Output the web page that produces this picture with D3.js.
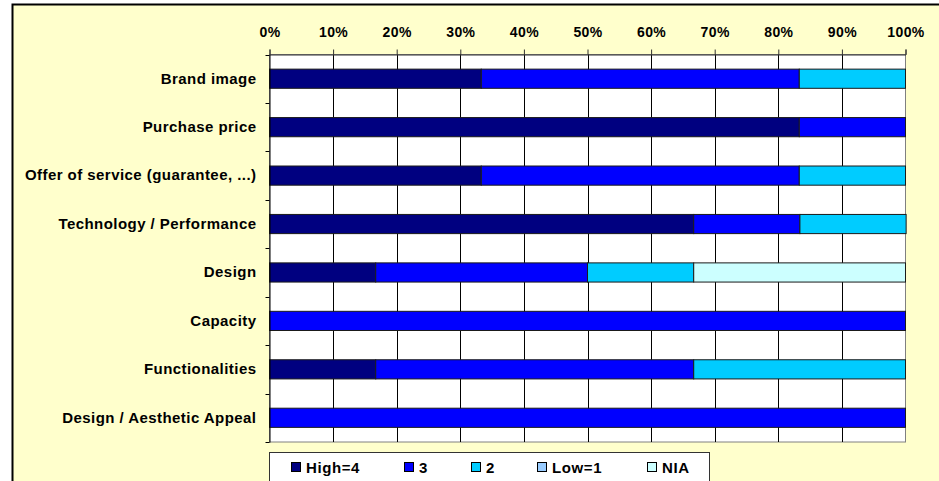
<!DOCTYPE html>
<html>
<head>
<meta charset="utf-8">
<script src="https://cdn.jsdelivr.net/npm/d3@7"></script>
<style>
  html, body { margin: 0; padding: 0; background: #ffffff; }
  svg { display: block; font-family: "Liberation Sans", Arial, sans-serif; }
</style>
</head>
<body>
<svg id="chart" width="939" height="481"></svg>
<script>
const categories = [
  "Brand image",
  "Purchase price",
  "Offer of service (guarantee, ...)",
  "Technology / Performance",
  "Design",
  "Capacity",
  "Functionalities",
  "Design / Aesthetic Appeal"
];
const seriesNames = ["High=4", "3", "2", "Low=1", "NIA"];
const seriesColors = ["#000080", "#0000FF", "#00CCFF", "#99CCFF", "#CCFFFF"];
const high4 = [33.3, 83.3, 33.3, 66.7, 16.7, 0, 16.7, 0];
const val3  = [50.0, 16.7, 50.0, 16.7, 33.3, 100, 50.0, 100];
const val2  = [16.7, 0, 16.7, 16.7, 16.7, 0, 33.3, 0];
const low1  = [0, 0, 0, 0, 0, 0, 0, 0];
const nia   = [0, 0, 0, 0, 33.3, 0, 0, 0];
const tickValues = [0, 10, 20, 30, 40, 50, 60, 70, 80, 90, 100];

const seriesValues = [high4, val3, val2, low1, nia];
const rows = categories.map((c, i) => {
  const r = { cat: c };
  seriesNames.forEach((s, k) => r[s] = seriesValues[k][i]);
  return r;
});

const svg = d3.select("#chart");

// chart area background
svg.append("rect")
  .attr("x", 12.5).attr("y", 4.5)
  .attr("width", 940).attr("height", 500)
  .attr("fill", "#FFFFCC")
  .attr("stroke", "#000").attr("stroke-width", 2);

const pL = 269.5, pR = 905.5, pT = 54.5, pB = 442;
const x = d3.scaleLinear().domain([0, 100]).range([pL, pR]);
const y = d3.scaleBand().domain(categories).range([pT, pB]).paddingInner(0).paddingOuter(0);
const barH = y.bandwidth() * 19 / 48;

// plot area
svg.append("rect")
  .attr("x", pL).attr("y", pT)
  .attr("width", pR - pL).attr("height", pB - pT)
  .attr("fill", "#FFFFFF")
  .attr("stroke", "#808080").attr("stroke-width", 1);

// vertical gridlines
svg.append("g").selectAll("line")
  .data(tickValues.slice(1, -1))
  .join("line")
  .attr("x1", d => Math.round(x(d)) + 0.5).attr("x2", d => Math.round(x(d)) + 0.5)
  .attr("y1", pT).attr("y2", pB)
  .attr("stroke", "#000").attr("stroke-width", 1);

// bars
const stack = d3.stack().keys(seriesNames);
const stacked = stack(rows);
svg.append("g").selectAll("g")
  .data(stacked)
  .join("g")
  .attr("fill", (d, i) => seriesColors[i])
  .selectAll("rect")
  .data(d => d.filter(p => p[1] - p[0] > 0))
  .join("rect")
  .attr("x", d => x(d[0]))
  .attr("width", d => x(d[1]) - x(d[0]))
  .attr("y", d => y(d.data.cat) + (y.bandwidth() - barH) / 2)
  .attr("height", barH)
  .attr("stroke", "#1a1a1a").attr("stroke-width", 1);

// top axis
const xAxis = d3.axisTop(x)
  .tickValues(tickValues)
  .tickFormat(d => d + "%")
  .tickSize(5)
  .tickPadding(13);
const gx = svg.append("g").attr("transform", `translate(0,${pT})`).call(xAxis);
gx.select(".domain").attr("stroke", "#333");
gx.selectAll(".tick line").attr("stroke", "#333");
gx.selectAll("text")
  .attr("font-size", 14).attr("font-weight", "bold")
  .attr("letter-spacing", 0.4)
  .attr("fill", "#000")
  .attr("font-family", "'Liberation Sans', Arial, sans-serif");

// left axis: labels at band centers
const yAxis = d3.axisLeft(y).tickSize(0).tickPadding(13);
const gy = svg.append("g").attr("transform", `translate(${pL},0)`).call(yAxis);
gy.select(".domain").attr("stroke", "#000");
gy.selectAll("text")
  .attr("font-size", 15).attr("font-weight", "bold")
  .attr("letter-spacing", 0.45)
  .attr("fill", "#000")
  .attr("font-family", "'Liberation Sans', Arial, sans-serif");

// left boundary ticks between categories
const boundaries = d3.range(categories.length + 1);
const yb = d3.scaleLinear().domain([0, categories.length]).range([pT, pB]);
svg.append("g").selectAll("line")
  .data(boundaries)
  .join("line")
  .attr("x1", pL - 4).attr("x2", pL)
  .attr("y1", d => Math.round(yb(d)) + 0.5).attr("y2", d => Math.round(yb(d)) + 0.5)
  .attr("stroke", "#000").attr("stroke-width", 1);

// legend
const lg = svg.append("g");
lg.append("rect")
  .attr("x", 269.5).attr("y", 452.5)
  .attr("width", 440).attr("height", 40)
  .attr("fill", "#FFFFFF")
  .attr("stroke", "#333").attr("stroke-width", 1);
const legendX = [291, 404, 471, 537, 647];
const items = lg.selectAll("g.item")
  .data(seriesNames)
  .join("g").attr("class", "item")
  .attr("transform", (d, i) => `translate(${legendX[i]},462)`);
items.append("rect")
  .attr("x", 0.5).attr("y", 0.5)
  .attr("width", 9).attr("height", 9)
  .attr("fill", (d, i) => seriesColors[i])
  .attr("stroke", "#000").attr("stroke-width", 1);
items.append("text")
  .attr("x", 15).attr("y", 11)
  .attr("font-size", 15).attr("font-weight", "bold")
  .attr("letter-spacing", 0.6)
  .attr("fill", "#000")
  .text(d => d);
</script>
</body>
</html>
